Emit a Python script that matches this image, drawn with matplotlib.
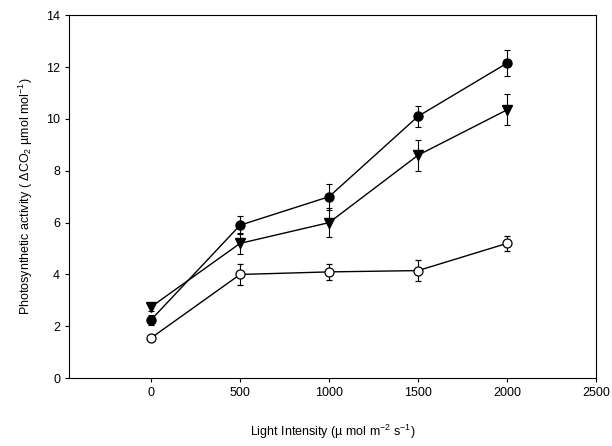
import matplotlib
matplotlib.use("Agg")
import matplotlib.pyplot as plt

plt.rcParams['font.family'] = ['Liberation Sans', 'DejaVu Sans']
plt.rcParams['mathtext.fontset'] = 'custom'
plt.rcParams['mathtext.rm'] = 'Liberation Sans'
plt.rcParams['mathtext.it'] = 'Liberation Sans:italic'

# light intensity levels
light = [0, 500, 1000, 1500, 2000]

# filled circles
filled_circle = [2.25, 5.9, 7.0, 10.1, 12.15]
filled_circle_err = [0.2, 0.35, 0.5, 0.4, 0.5]

# filled down-triangles
triangle = [2.75, 5.2, 6.0, 8.6, 10.35]
triangle_err = [0.15, 0.4, 0.55, 0.6, 0.6]

# open circles
open_circle = [1.55, 4.0, 4.1, 4.15, 5.2]
open_circle_err = [0.12, 0.4, 0.3, 0.4, 0.3]

fig = plt.figure(figsize=(6.12, 4.46), dpi=100)
ax = fig.add_axes([0.113, 0.152, 0.861, 0.814])

common = dict(color="black", lw=1.0, capsize=2.5, elinewidth=0.8, capthick=0.8)
ax.errorbar(light, open_circle, yerr=open_circle_err, marker="o", ms=6.5,
            mfc="white", mec="black", mew=0.9, **common)
ax.errorbar(light, triangle, yerr=triangle_err, marker="v", ms=6.5,
            mfc="black", mec="black", **common)
ax.errorbar(light, filled_circle, yerr=filled_circle_err, marker="o", ms=6.5,
            mfc="black", mec="black", **common)

ax.set_xlim(-460, 2500)
ax.set_ylim(0, 14)
ax.set_xticks([0, 500, 1000, 1500, 2000, 2500])
ax.set_yticks(range(0, 15, 2))
ax.tick_params(direction="out", length=3, width=0.8, labelsize=9)
for s in ax.spines.values():
    s.set_linewidth(0.8)

ax.set_xlabel("Light Intensity (\u00b5 mol m$^{-2}$ s$^{-1}$)", fontsize=9, labelpad=17)
ax.set_ylabel("Photosynthetic activity ( $\\Delta$CO$_2$ \u00b5mol mol$^{-1}$)", fontsize=9, labelpad=8)

fig.savefig("out.png", dpi=100)
